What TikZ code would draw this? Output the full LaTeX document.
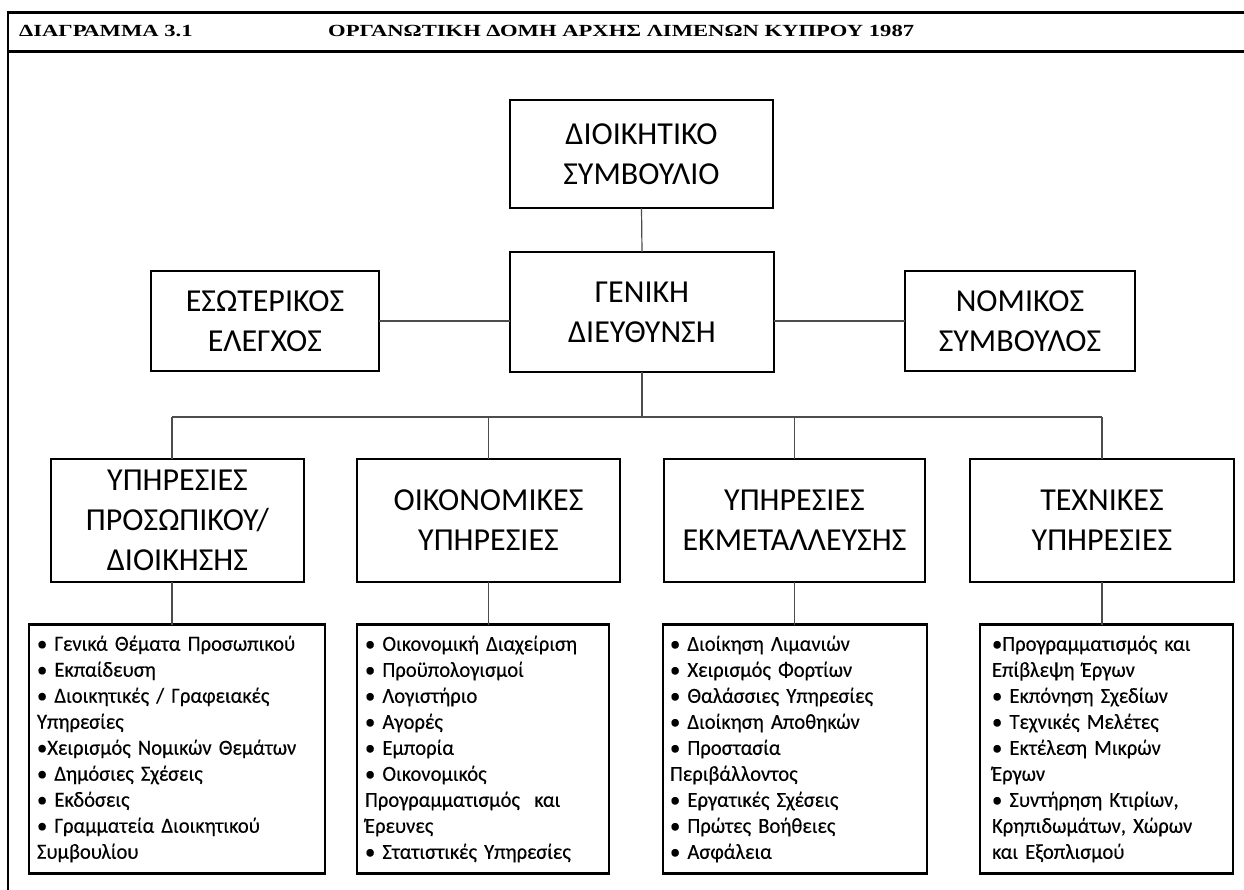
\documentclass[tikz,border=0pt]{standalone}
\usepackage{fontspec}
\setmainfont{Carlito}
\newfontfamily\listfont{Carlito}[FakeStretch=0.96,FakeBold=0.3]
\newfontfamily\hdrfont{Liberation Serif}
\begin{document}
\begin{tikzpicture}[x=1pt,y=-1pt,
  box/.style={draw,line width=2.8pt,outer sep=0pt,inner sep=0pt,align=center,
    font=\fontsize{32}{40}\selectfont},
  list/.style={draw,line width=2.8pt,outer sep=0pt,inner ysep=0pt,align=left,
    minimum height=249pt,font=\listfont\fontsize{21.5}{26}\selectfont},
  conn/.style={draw=black!70,line width=1.2pt},
  frm/.style={line width=3pt},
  hdr/.style={inner sep=0pt,anchor=base west,font=\hdrfont\bfseries\fontsize{17}{20}\selectfont}]
\useasboundingbox (0,0) rectangle (1244,890);
% frame
\draw[frm] (7,12.5) -- (1244,12.5);
\draw[frm] (7,51.5) -- (1244,51.5);
\draw[line width=2.5pt] (8,11) -- (8,890);
\node[hdr] (hd1) at (19,37) {\scalebox{1.33}[1]{ΔΙΑΓΡΑΜΜΑ 3.1}};
\node[hdr] (hd2) at (328,37) {\scalebox{1.33}[1]{ΟΡΓΑΝΩΤΙΚΗ ΔΟΜΗ ΑΡΧΗΣ ΛΙΜΕΝΩΝ ΚΥΠΡΟΥ 1987}};
% top levels
\node[box,minimum width=263pt,minimum height=108pt] (board) at (641.5,154) {ΔΙΟΙΚΗΤΙΚΟ\\ΣΥΜΒΟΥΛΙΟ};
\node[box,minimum width=264pt,minimum height=120pt] (gm) at (642,312) {ΓΕΝΙΚΗ\\ΔΙΕΥΘΥΝΣΗ};
\node[box,minimum width=228pt,minimum height=100pt] (audit) at (265,321) {ΕΣΩΤΕΡΙΚΟΣ\\ΕΛΕΓΧΟΣ};
\node[box,minimum width=230pt,minimum height=100pt] (legal) at (1020,321) {ΝΟΜΙΚΟΣ\\ΣΥΜΒΟΥΛΟΣ};
% departments
\node[box,minimum width=253pt,minimum height=123pt] (d1) at (177.5,520.5) {ΥΠΗΡΕΣΙΕΣ\\ΠΡΟΣΩΠΙΚΟΥ/\\ΔΙΟΙΚΗΣΗΣ};
\node[box,minimum width=263pt,minimum height=123pt] (d2) at (488.5,520.5) {ΟΙΚΟΝΟΜΙΚΕΣ\\ΥΠΗΡΕΣΙΕΣ};
\node[box,minimum width=261pt,minimum height=123pt] (d3) at (794.5,520.5) {ΥΠΗΡΕΣΙΕΣ\\ΕΚΜΕΤΑΛΛΕΥΣΗΣ};
\node[box,minimum width=264pt,minimum height=123pt] (d4) at (1102,520.5) {ΤΕΧΝΙΚΕΣ\\ΥΠΗΡΕΣΙΕΣ};
% lists
\node[list,text width=280pt,inner xsep=8pt] (l1) at (177,749) {%
• Γενικά Θέματα Προσωπικού\\
• Εκπαίδευση\\
• Διοικητικές / Γραφειακές\\
Υπηρεσίες\\
•Χειρισμός Νομικών Θεμάτων\\
• Δημόσιες Σχέσεις\\
• Εκδόσεις\\
• Γραμματεία Διοικητικού\\
Συμβουλίου};
\node[list,text width=236pt,inner xsep=8pt] (l2) at (483,749) {%
• Οικονομική Διαχείριση\\
• Προϋπολογισμοί\\
• Λογιστήριο\\
• Αγορές\\
• Εμπορία\\
• Οικονομικός\\
Προγραμματισμός~ και\\
Έρευνες\\
• Στατιστικές Υπηρεσίες};
\node[list,text width=250pt,inner xsep=7pt] (l3) at (795,749) {%
• Διοίκηση Λιμανιών\\
• Χειρισμός Φορτίων\\
• Θαλάσσιες Υπηρεσίες\\
• Διοίκηση Αποθηκών\\
• Προστασία\\
Περιβάλλοντος\\
• Εργατικές Σχέσεις\\
• Πρώτες Βοήθειες\\
• Ασφάλεια};
\node[list,text width=229pt,inner xsep=12pt] (l4) at (1106.5,749) {%
•Προγραμματισμός και\\
Επίβλεψη Έργων\\
• Εκπόνηση Σχεδίων\\
• Τεχνικές Μελέτες\\
• Εκτέλεση Μικρών\\
Έργων\\
• Συντήρηση Κτιρίων,\\
Κρηπιδωμάτων, Χώρων\\
και Εξοπλισμού};
% connectors
\coordinate (b1) at (172,417);
\coordinate (b4) at (1102,417);
\draw[conn] (board.south) -- (gm.north);
\draw[conn] (audit.east) -- (audit.east -| gm.west);
\draw[conn] (legal.west) -- (legal.west -| gm.east);
\draw[conn] (gm.south) -- (gm.south |- b1);
\draw[conn] (b1) -- (b4);
\draw[conn] (b1) -- (b1 |- d1.north);
\draw[conn] (d2.north |- b1) -- (d2.north);
\draw[conn] (d3.north |- b1) -- (d3.north);
\draw[conn] (b4) -- (d4.north);
\draw[conn] (b1 |- d1.south) -- (b1 |- l1.north);
\draw[conn] (d2.south) -- (d2.south |- l2.north);
\draw[conn] (d3.south) -- (d3.south |- l3.north);
\draw[conn] (d4.south) -- (d4.south |- l4.north);
\end{tikzpicture}
\end{document}
